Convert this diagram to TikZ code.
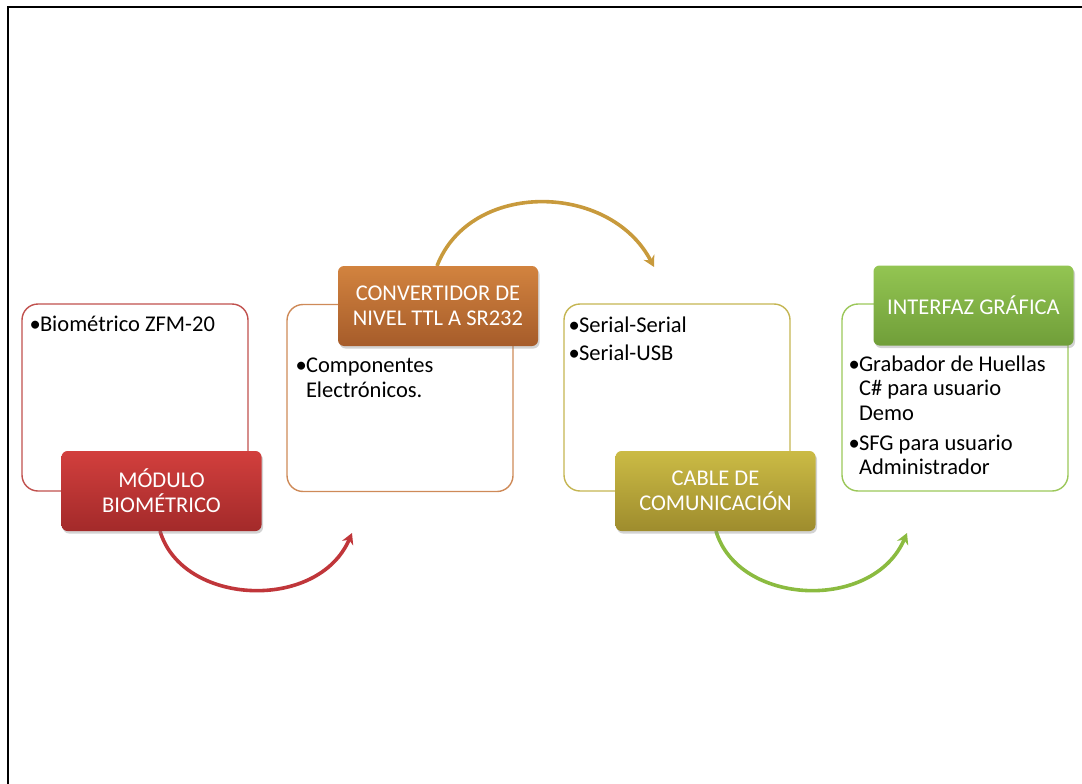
\documentclass[tikz,border=0pt]{standalone}
\usepackage{fontspec}
\setmainfont{Carlito}
\usetikzlibrary{arrows.meta,shadows,calc}
\definecolor{redline}{HTML}{C0504D}
\definecolor{redtop}{HTML}{D23F3D}
\definecolor{redbot}{HTML}{A32A2A}
\definecolor{redarrow}{HTML}{C0363A}
\definecolor{orline}{HTML}{CE8A58}
\definecolor{ortop}{HTML}{D2833F}
\definecolor{orbot}{HTML}{A65C2A}
\definecolor{goldarrow}{HTML}{C89A3C}
\definecolor{olline}{HTML}{C4B552}
\definecolor{oltop}{HTML}{CBBB45}
\definecolor{olbot}{HTML}{9E8C2D}
\definecolor{grline}{HTML}{9BC759}
\definecolor{grtop}{HTML}{93C552}
\definecolor{grbot}{HTML}{709E39}
\definecolor{grarrow}{HTML}{8BBB40}
\newcommand{\bulitem}[1]{\makebox[10.5pt][l]{•}#1}
\newcommand{\bulcont}[1]{\hspace*{10.5pt}#1}
\begin{document}
\begin{tikzpicture}[x=1pt,y=-1pt,
  outerbox/.style={draw=#1, line width=1.4pt, rounded corners=16pt, minimum width=226pt, minimum height=187pt, inner sep=0pt},
  labelbox/.style 2 args={rounded corners=6pt, minimum width=200pt, minimum height=80pt, top color=#1, bottom color=#2, text=white, align=center, font=\fontsize{22.5}{25}\selectfont, inner sep=0pt, drop shadow={opacity=0.35, shadow xshift=1.5pt, shadow yshift=-2.5pt}},
  bodytext/.style={anchor=north west, align=left, font=\fontsize{22.5}{24.5}\selectfont, inner sep=0pt},
  flow/.style={line width=3.6pt, -{Stealth[length=11pt,width=12pt]}, draw=#1}]
\useasboundingbox (0,0) rectangle (1082,784);
\draw[line width=2.2pt] (8,784) -- (8,7) -- (1082,7);
% outline boxes
\node[outerbox=redline] (b1) at (135,397.5) {};
\node[outerbox=orline] (b2) at (400,398) {};
\node[outerbox=olline] (b3) at (677,397.5) {};
\node[outerbox=grline] (b4) at (955,397.5) {};
% body texts
\node[bodytext] (t1) at ($(b1.north west)+(8,13)$) {\bulitem{Biométrico ZFM-20}};
\node[bodytext] (t2) at ($(b2.north west)+(9,54)$) {\bulitem{Componentes}\\\bulcont{Electrónicos.}};
\node[bodytext] (t3) at ($(b3.north west)+(5,13)$) {\bulitem{Serial-Serial}\\[3.5pt]\bulitem{Serial-USB}};
\node[bodytext] (t4) at ($(b4.north west)+(7,52)$) {\bulitem{Grabador de Huellas}\\\bulcont{C\# para usuario}\\\bulcont{Demo}\\[5.5pt]\bulitem{SFG para usuario}\\\bulcont{Administrador}};
% arrow anchors
\coordinate (r0) at (160,531);
\coordinate (r1) at (352,533);
\coordinate (g0) at (437,266);
\coordinate (g1) at (654,267);
\coordinate (v0) at (716,531);
\coordinate (v1) at (907,533);
\draw[flow=redarrow] (r0) .. controls (182,606) and (318,612) .. (r1);
\draw[flow=goldarrow] (g0) .. controls (470,180) and (610,182) .. (g1);
\draw[flow=grarrow] (v0) .. controls (738,606) and (873,612) .. (v1);
% labels
\node[labelbox={redtop}{redbot}] (l1) at (161.5,491) {MÓDULO\\BIOMÉTRICO};
\node[labelbox={ortop}{orbot}] (l2) at (438,306) {CONVERTIDOR DE\\NIVEL TTL A SR232};
\node[labelbox={oltop}{olbot}] (l3) at (715.5,491) {CABLE DE\\COMUNICACIÓN};
\node[labelbox={grtop}{grbot}] (l4) at (973.5,305.5) {INTERFAZ GRÁFICA};
\end{tikzpicture}
\end{document}
